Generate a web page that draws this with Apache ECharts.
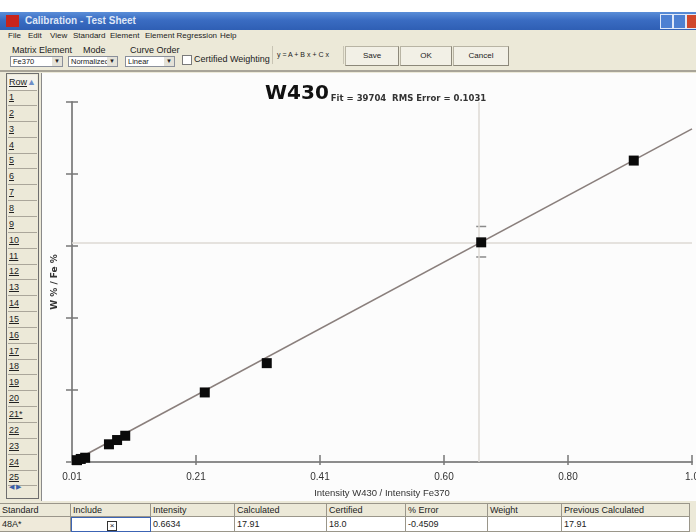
<!DOCTYPE html>
<html>
<head>
<meta charset="utf-8">
<title>Calibration - Test Sheet</title>
<script src="https://cdn.jsdelivr.net/npm/echarts@6.0.0/dist/echarts.min.js"></script>
<style>
body {
  margin: 0;
  width: 696px;
  height: 532px;
  position: relative;
  overflow: hidden;
  background: #ece9d8;
  font-family: "Liberation Sans", Arial, sans-serif;
  font-size: 9px;
  color: #222;
  white-space: nowrap;
}
.abs { position: absolute; }
#topgap { left: 0; top: 0; width: 696px; height: 12px; background: #fff; }
#titlebar {
  left: 0; top: 12px; width: 696px; height: 18px;
  background: linear-gradient(#5a8ed8, #3a6cc2 45%, #2f5fb4);
}
#titlebar .icon { left: 6px; top: 3px; width: 13px; height: 12px; background: #c8241c; }
#titlebar .txt { left: 25px; top: 3px; color: #dfe7f7; font-size: 10px; font-weight: bold; }
.wbtn { top: 2px; width: 11px; height: 13px; border: 1px solid #dfe8f8; background: #4d80d2; }
#menubar { left: 0; top: 31px; height: 10px; }
#menubar span { position: absolute; top: 0; font-size: 8px; }
.lbl { font-size: 9px; }
.combo {
  height: 11px; top: 56px; background: #fff; border: 1px solid #8a8f9a;
  font-size: 7.5px; line-height: 10px; padding-left: 2px; box-sizing: border-box; overflow: hidden;
}
.combo .arr { position: absolute; right: 0; top: 0; width: 10px; height: 9px; background: #e4e2d8; text-align: center; font-size: 6px; line-height: 9px; }
.btn {
  top: 46px; height: 18px; border: 1px solid #b8b4a4; border-right-color: #8c887a; border-bottom-color: #8c887a;
  background: #f2f0e6; text-align: center; line-height: 18px; font-size: 8px;
}
#sep { left: 0; top: 70px; width: 696px; height: 2px; background: #a8a498; }
#rowpanel {
  left: 6px; top: 73px; width: 31px; height: 424px;
  border: 1px solid #6e6e6e; background: #ece9d8;
}
.rowcell {
  position: absolute; left: 1px; width: 28px; height: 15px;
  border-bottom: 1px solid #aaa69a; font-size: 9px; line-height: 15px;
  text-decoration: underline; padding-left: 1px;
}
#plotpanel {
  left: 41px; top: 73px; width: 655px; height: 428px;
  background: #fcfcfc; border-left: 1px solid #8a8a8a;
}
#chart { left: 42px; top: 73px; width: 654px; height: 427px; }
#grid { left: 0; top: 503px; width: 696px; }
.hcell, .dcell {
  position: absolute; box-sizing: border-box; font-size: 9px; padding-left: 2px;
  border-right: 1px solid #9a968a; border-bottom: 1px solid #9a968a;
}
.hcell { top: 0; height: 14px; line-height: 13px; background: #ece9d8; border-top: 1px solid #9a968a; }
.dcell { top: 14px; height: 15px; line-height: 14px; background: #fff; }
.chk { display: inline-block; width: 8px; height: 8px; border: 1px solid #333; font-size: 8px; line-height: 8px; text-align: center; vertical-align: middle; }
</style>
</head>
<body>
<div id="topgap" class="abs"></div>
<div id="titlebar" class="abs">
  <div class="abs icon"></div>
  <div class="abs txt">Calibration - Test Sheet</div>
  <div class="abs wbtn" style="left:660px"></div>
  <div class="abs wbtn" style="left:673px"></div>
  <div class="abs wbtn" style="left:686px;background:#d0482c"></div>
</div>
<div id="menubar" class="abs">
  <span style="left:8px">File</span>
  <span style="left:28px">Edit</span>
  <span style="left:50px">View</span>
  <span style="left:73px">Standard</span>
  <span style="left:110px">Element</span>
  <span style="left:145px">Element Regression</span>
  <span style="left:220px">Help</span>
</div>
<div class="abs lbl" style="left:12px;top:45px">Matrix Element</div>
<div class="abs lbl" style="left:83px;top:45px">Mode</div>
<div class="abs lbl" style="left:130px;top:45px">Curve Order</div>
<div class="abs combo" style="left:10px;width:53px">Fe370<div class="arr">&#9660;</div></div>
<div class="abs combo" style="left:68px;width:50px">Normalized<div class="arr">&#9660;</div></div>
<div class="abs combo" style="left:125px;width:50px">Linear<div class="arr">&#9660;</div></div>
<div class="abs" style="left:182px;top:55px;width:8px;height:8px;border:1px solid #7a7a7a;background:#fff"></div>
<div class="abs lbl" style="left:194px;top:54px">Certified Weighting</div>
<div class="abs" style="left:272px;top:46px;width:70px;height:18px;border-left:1px solid #c8c4b4;border-right:1px solid #c8c4b4"></div>
<div class="abs" style="left:277px;top:51px;font-size:7px">y = A + B x + C x</div>
<div class="abs btn" style="left:345px;width:52px">Save</div>
<div class="abs btn" style="left:400px;width:50px">OK</div>
<div class="abs btn" style="left:453px;width:54px">Cancel</div>
<div id="sep" class="abs"></div>
<div id="rowpanel" class="abs"></div>
<div id="plotpanel" class="abs"></div>
<div id="chart" class="abs"></div>
<div id="grid" class="abs"></div>
<script>
// calibration standards (intensity ratio vs concentration ratio)
const xTickValues = [0.01, 0.208, 0.406, 0.604, 0.802, 1.0];
const xTickLabels = ['0.01', '0.21', '0.41', '0.60', '0.80', '1.0'];
const yTickValues = [0, 5.9, 11.8, 17.7, 23.6, 29.5];
const standardIntensity = [0.018, 0.024, 0.031, 0.069, 0.082, 0.095, 0.222, 0.321, 0.6634, 0.907];
const standardConc = [0.15, 0.25, 0.35, 1.45, 1.8, 2.15, 5.7, 8.1, 18.0, 24.7];
const fitIntensity = [0.01, 1.0];
const fitConc = [0.0, 27.3];
const selIntensity = [0.6634];
const selConc = [18.0];
const selLow = [16.8];
const selHigh = [19.3];

const rowLabels = ['1', '2', '3', '4', '5', '6', '7', '8', '9', '10', '11', '12', '13',
  '14', '15', '16', '17', '18', '19', '20', '21*', '22', '23', '24', '25'];
const gridCols = ['Standard', 'Include', 'Intensity', 'Calculated', 'Certified', '% Error', 'Weight', 'Previous Calculated'];
const gridRow = ['48A*', '', '0.6634', '17.91', '18.0', '-0.4509', '', '17.91'];
const colEdges = [0, 71, 151, 235, 327, 406, 488, 562, 690];

// row list on the left
const rp = document.getElementById('rowpanel');
let html = '<div class="rowcell" style="top:1px;background:#f4f2ea">Row<span style="position:absolute;right:1px;top:0;color:#6f8fc8;text-decoration:none">&#9650;</span></div>';
rowLabels.forEach((r, i) => {
  html += '<div class="rowcell" style="top:' + (16 + i * 15.85).toFixed(1) + 'px">' + r + '</div>';
});
html += '<div style="position:absolute;left:2px;top:409px;font-size:7px;color:#3a5fa8">&#9664; &#9654;</div>';
rp.innerHTML = html;

// bottom grid
const g = document.getElementById('grid');
let gh = '';
gridCols.forEach((c, i) => {
  const l = colEdges[i], w = colEdges[i + 1] - l;
  gh += '<div class="hcell" style="left:' + l + 'px;width:' + w + 'px">' + c + '</div>';
  let bg = i === 0 ? '#efeada' : '#fff';
  let extra = i === 1 ? 'border:1px solid #3c64b4;text-align:center;' : '';
  let txt = i === 1 ? '<span class="chk">&#215;</span>' : gridRow[i];
  gh += '<div class="dcell" style="left:' + l + 'px;width:' + w + 'px;background:' + bg + ';' + extra + '">' + txt + '</div>';
});
g.innerHTML = gh;

const chart = echarts.init(document.getElementById('chart'));
const tickFmt = function (v) {
  let best = 0;
  xTickValues.forEach((t, i) => {
    if (Math.abs(t - v) < Math.abs(xTickValues[best] - v)) best = i;
  });
  return xTickLabels[best];
};
chart.setOption({
  animation: false,
  title: {
    left: 218,
    top: 4,
    text: '{a|W430}{b|Fit = 39704  RMS Error = 0.1031}',
    textStyle: {
      rich: {
        a: { fontFamily: 'DejaVu Sans', fontWeight: 'bold', fontSize: 20, color: '#111', lineHeight: 22, verticalAlign: 'bottom' },
        b: { fontFamily: 'DejaVu Sans', fontSize: 8.5, color: '#333', lineHeight: 22, verticalAlign: 'bottom', padding: [0, 0, 1, 2] }
      }
    }
  },
  grid: { left: 30, right: 4, top: 29, bottom: 38, outerBoundsMode: 'none' },
  xAxis: [
    {
      type: 'value',
      min: 0.01,
      max: 1.0,
      name: 'Intensity W430 / Intensity Fe370',
      nameLocation: 'middle',
      nameGap: 26,
      nameTextStyle: { fontSize: 9.5, color: '#333', fontFamily: 'Liberation Sans' },
      axisLine: { lineStyle: { color: '#8c8c8c', width: 2 } },
      axisTick: { customValues: xTickValues, length: 3, lineStyle: { color: '#777', width: 1.5 } },
      axisLabel: { customValues: xTickValues, formatter: tickFmt, fontSize: 10, color: '#333', margin: 10, fontFamily: 'Liberation Sans' },
      splitLine: { show: false }
    },
    {
      type: 'value',
      min: 0.01,
      max: 1.0,
      position: 'bottom',
      axisLine: { show: false },
      axisTick: { customValues: xTickValues, inside: true, length: 7, lineStyle: { color: '#777', width: 1.5 } },
      axisLabel: { show: false },
      splitLine: { show: false }
    }
  ],
  yAxis: [
    {
      type: 'value',
      min: 0,
      max: 29.5,
      name: 'W % / Fe %',
      nameLocation: 'middle',
      nameGap: 13,
      nameTextStyle: { fontSize: 9, fontWeight: 'bold', color: '#333', fontFamily: 'DejaVu Sans' },
      axisLine: { lineStyle: { color: '#8c8c8c', width: 2 } },
      axisTick: { customValues: yTickValues, length: 6, lineStyle: { color: '#777', width: 1.5 } },
      axisLabel: { show: false },
      splitLine: { show: false }
    },
    {
      type: 'value',
      min: 0,
      max: 29.5,
      position: 'left',
      axisLine: { show: false },
      axisTick: { customValues: yTickValues, inside: true, length: 6, lineStyle: { color: '#777', width: 1.5 } },
      axisLabel: { show: false },
      splitLine: { show: false }
    }
  ],
  series: [
    {
      name: 'crosshair',
      type: 'line',
      data: selIntensity.map((x, i) => [x, selConc[i]]),
      showSymbol: false,
      lineStyle: { opacity: 0 },
      z: 1,
      silent: true,
      markLine: {
        silent: true,
        symbol: ['none', 'none'],
        label: { show: false },
        lineStyle: { color: '#dedad5', width: 1.5, type: 'solid' },
        data: [{ xAxis: selIntensity[0] }, { yAxis: selConc[0] }]
      }
    },
    {
      name: 'fit',
      type: 'line',
      data: fitIntensity.map((x, i) => [x, fitConc[i]]),
      showSymbol: false,
      lineStyle: { color: '#8a7f7c', width: 1.6 },
      z: 2,
      silent: true
    },
    {
      name: 'error',
      type: 'custom',
      z: 3,
      silent: true,
      encode: { x: 0, y: [1, 2] },
      data: selIntensity.map((x, i) => [x, selLow[i], selHigh[i]]),
      renderItem: function (params, api) {
        const x = api.value(0);
        const pLo = api.coord([x, api.value(1)]);
        const pHi = api.coord([x, api.value(2)]);
        const w = 5;
        const st = { stroke: '#8a8a8a', lineWidth: 1.5 };
        return {
          type: 'group',
          children: [
            { type: 'line', shape: { x1: pLo[0] - w, y1: pLo[1], x2: pLo[0] + w, y2: pLo[1] }, style: st },
            { type: 'line', shape: { x1: pHi[0] - w, y1: pHi[1], x2: pHi[0] + w, y2: pHi[1] }, style: st }
          ]
        };
      }
    },
    {
      name: 'standards',
      type: 'scatter',
      data: standardIntensity.map((x, i) => [x, standardConc[i]]),
      symbol: 'rect',
      symbolSize: 10,
      itemStyle: { color: '#0a0a0a', opacity: 1 },
      z: 5
    }
  ]
});
</script>
</body>
</html>
